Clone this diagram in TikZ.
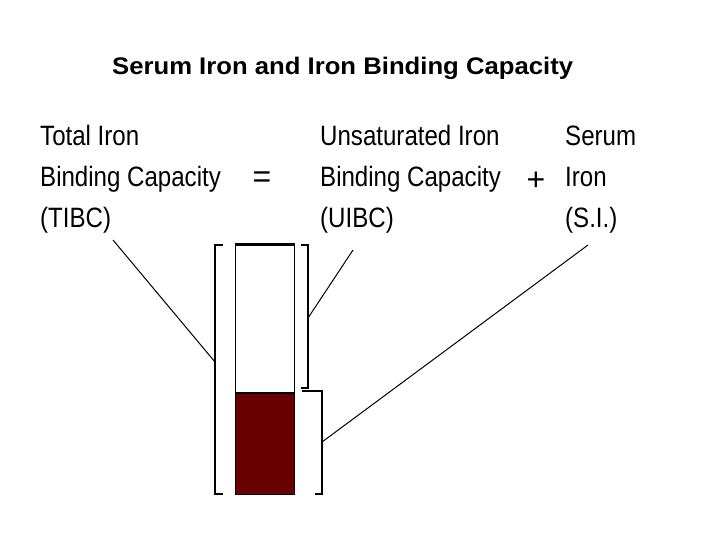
\documentclass[tikz,border=0pt]{standalone}
\usepackage{fontspec}
\setmainfont{Liberation Sans}
\newfontfamily\bodyfont[FakeStretch=0.86]{Liberation Sans}
\newfontfamily\titlefont[FakeStretch=1.07]{Liberation Sans}
\definecolor{ironred}{RGB}{104,0,0}
\begin{document}
\begin{tikzpicture}[x=1pt,y=-1pt,
  lbl/.style={anchor=base west,inner sep=0pt,font=\bodyfont\fontsize{28}{30}\selectfont},
  op/.style={inner sep=0pt,font=\fontsize{32}{34}\selectfont},
  brk/.style={line width=2pt},
  leader/.style={line width=1pt}]
\useasboundingbox (0,0) rectangle (720,540);
\fill[white] (0,0) rectangle (720,540);
% title
\node[anchor=base west,inner sep=0pt,font=\titlefont\bfseries\fontsize{24}{26}\selectfont] (title) at (112,75) {Serum Iron and Iron Binding Capacity};
% left column
\node[lbl] (t1) at (40,146) {Total Iron};
\node[lbl] (t2) at (40,187) {Binding Capacity};
\node[lbl] (t3) at (40,227) {(TIBC)};
\node[op] (eq) at (262,180) {=};
% middle column
\node[lbl] (u1) at (320,146) {Unsaturated Iron};
\node[lbl] (u2) at (320,187) {Binding Capacity};
\node[lbl] (u3) at (320,227) {(UIBC)};
\node[op] (plus) at (536,181) {+};
% right column
\node[lbl] (s1) at (565,146) {Serum};
\node[lbl] (s2) at (565,187) {Iron};
\node[lbl] (s3) at (565,227) {(S.I.)};
% bar
\node[draw=black,line width=1.2pt,fill=white,minimum width=59pt,minimum height=148pt,inner sep=0pt,anchor=north west] (ubar) at (234.5,244) {};
\node[draw=black,line width=1.2pt,fill=ironred,minimum width=59pt,minimum height=102pt,inner sep=0pt,anchor=north west] (sbar) at (234.5,392) {};
\draw[line width=3pt] (ubar.north west) -- (ubar.north east);
\draw[line width=2pt] (ubar.south west) -- (ubar.south east);
% brackets
\draw[brk] (223,245) -- (215,245) -- (215,494) -- (223,494);
\draw[brk] (301,245) -- (308,245) -- (308,388) -- (301,388);
\draw[brk] (302,391) -- (322,391) -- (322,494) -- (315,494);
% leaders
\coordinate (tA) at (113,240);
\coordinate (tB) at (215,362);
\coordinate (uA) at (353,250);
\coordinate (uB) at (308,318);
\coordinate (sA) at (588,245);
\coordinate (sB) at (322,442);
\draw[leader] (tA) -- (tB);
\draw[leader] (uA) -- (uB);
\draw[leader] (sA) -- (sB);
\end{tikzpicture}
\end{document}
